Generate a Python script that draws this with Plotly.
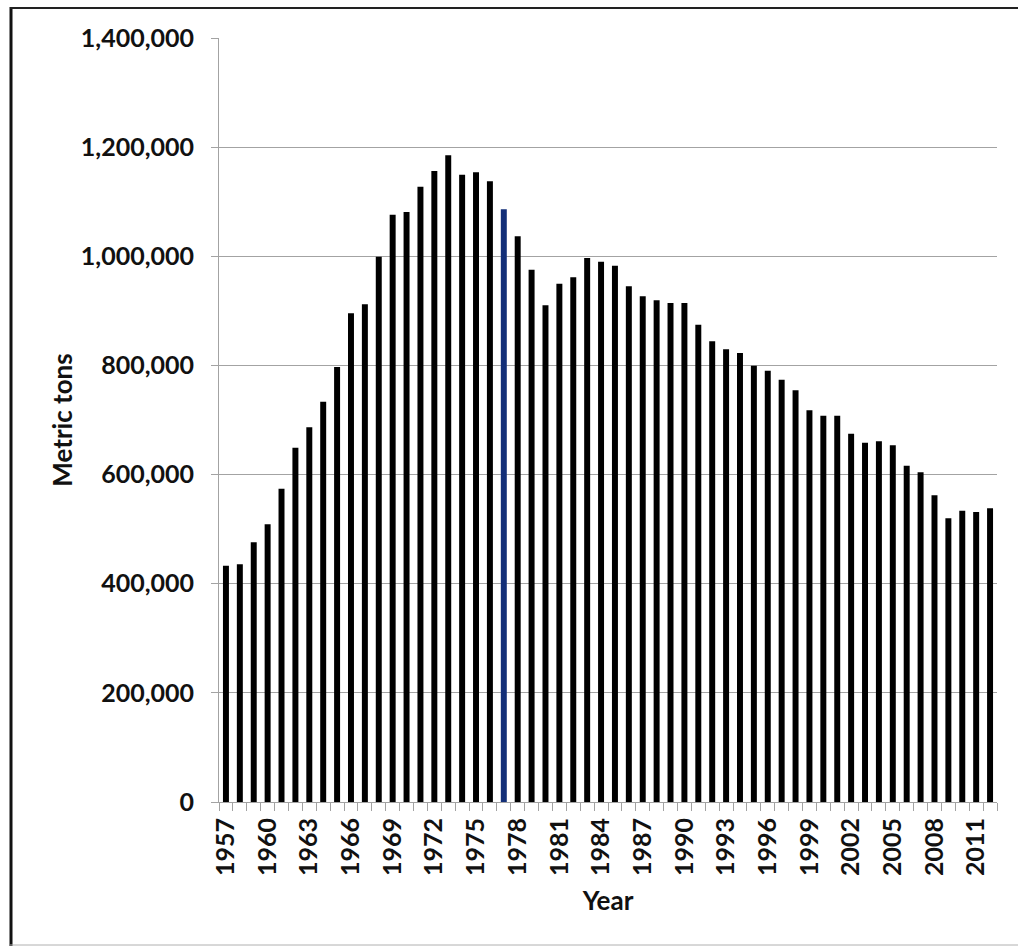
import plotly.graph_objects as go

years = list(range(1957, 2013))
metric_tons = [
    433000, 435500, 475800, 508800, 574200, 649300, 686600, 733600, 797100,
    895500, 912000, 999300, 1076000, 1081000, 1127600, 1156300, 1185000,
    1149600, 1153900, 1137400, 1086100, 1036600, 975500, 910100, 949800,
    961500, 996900, 990200, 982800, 945000, 926700, 919300, 914400, 914400,
    874700, 844200, 829500, 822800, 799600, 790400, 773900, 754400, 717800,
    708000, 708000, 675000, 658500, 660900, 653600, 616300, 604100, 562000,
    519800, 533900, 531400, 538100,
]
highlight_year = 1977
tick_years = list(range(1957, 2012, 3))
y_ticks = [0, 200000, 400000, 600000, 800000, 1000000, 1200000, 1400000]

bar_colors = ["#132f78" if y == highlight_year else "#000000" for y in years]

FONT = "Lato"
grid = "#a3a3a3"
TXT = "#111111"

W, H = 1018, 947
L, T = 219, 38
R = W - 997
B = H - 802
pw, ph = W - L - R, H - T - B

def px_x(p):
    return (p - L) / pw

def px_y(p):
    return (H - B - p) / ph

fig = go.Figure(
    go.Bar(x=years, y=metric_tons, marker=dict(color=bar_colors, line=dict(width=0)), width=0.43)
)

tickfont = dict(family=FONT, size=25, color=TXT, weight="bold")
titlefont = dict(family=FONT, size=26, color=TXT, weight="bold")

fig.update_layout(
    width=W,
    height=H,
    margin=dict(l=L, r=R, t=T, b=B),
    paper_bgcolor="white",
    plot_bgcolor="white",
    showlegend=False,
    font=dict(family=FONT, size=25, color=TXT, weight="bold"),
    xaxis=dict(
        range=[1956.5, 2012.5],
        tickmode="array",
        tickvals=tick_years,
        ticktext=[str(y) for y in tick_years],
        tickangle=-90,
        ticks="",
        ticklabelstandoff=5,
        showgrid=False,
        showline=True,
        linecolor=grid,
        linewidth=1,
        zeroline=False,
        minor=dict(ticks="outside", ticklen=8, tickcolor=grid, tickwidth=1, tick0=1956.5, dtick=1, showgrid=False),
        title=dict(text="Year", font=titlefont, standoff=16),
        tickfont=tickfont,
    ),
    yaxis=dict(
        range=[0, 1400000],
        tickmode="array",
        tickvals=y_ticks,
        ticktext=[f"{v:,}" for v in y_ticks],
        ticks="outside",
        ticklen=7,
        tickcolor=grid,
        ticklabelstandoff=12,
        showgrid=True,
        gridcolor=grid,
        gridwidth=1,
        showline=True,
        linecolor=grid,
        linewidth=1,
        zeroline=False,
        title=dict(text="Metric tons", font=titlefont, standoff=0),
        tickfont=tickfont,
    ),
    shapes=[
        dict(type="line", xref="paper", yref="paper", x0=px_x(11), x1=px_x(11), y0=px_y(7), y1=px_y(946),
             line=dict(color=TXT, width=3)),
        dict(type="line", xref="paper", yref="paper", x0=px_x(10), x1=px_x(1030), y0=px_y(8), y1=px_y(8),
             line=dict(color="#222222", width=2)),
        dict(type="line", xref="paper", yref="paper", x0=px_x(10), x1=px_x(1030), y0=px_y(945), y1=px_y(945),
             line=dict(color="#b0b0b0", width=1)),
    ],
)

fig.write_html(
    "out.html",
    config={"displayModeBar": False},
    post_script="document.body.style.margin='0';document.body.style.overflow='hidden';",
)
